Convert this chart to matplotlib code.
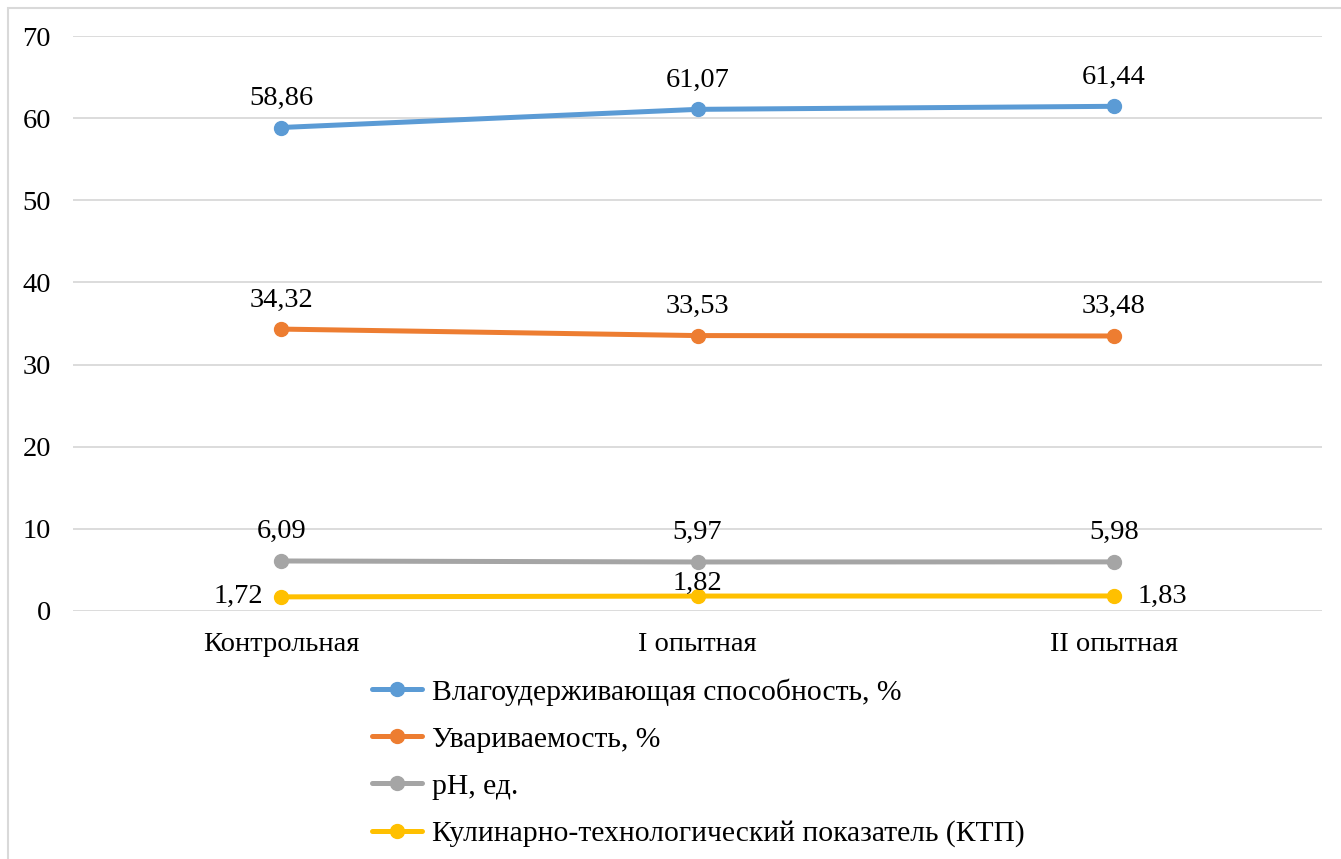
import matplotlib
matplotlib.use('Agg')
import matplotlib.pyplot as plt
from matplotlib.patches import Rectangle

plt.rcParams['font.family'] = ['Liberation Serif', 'DejaVu Serif']

# Данные
groups = ['Контрольная', 'I опытная', 'II опытная']
moisture = [58.86, 61.07, 61.44]
cooking_loss = [34.32, 33.53, 33.48]
ph = [6.09, 5.97, 5.98]
ktp = [1.72, 1.82, 1.83]

series = [
    ('Влагоудерживающая способность, %', moisture, '#5B9BD5'),
    ('Увариваемость, %', cooking_loss, '#ED7D31'),
    ('pH, ед.', ph, '#A5A5A5'),
    ('Кулинарно-технологический показатель (КТП)', ktp, '#FFC000'),
]

W, H = 1341, 859
fig = plt.figure(figsize=(W / 100, H / 100), dpi=100)
ax = fig.add_axes([73 / W, 1 - 611 / H, (1322 - 73) / W, (611 - 36) / H])

# рамка вокруг диаграммы
fig.patches.append(Rectangle((8 / W, -0.1), 1.2, 1 - 8 / H + 0.1, transform=fig.transFigure,
                             fill=False, edgecolor='#D9D9D9', linewidth=1.5))

x = list(range(len(groups)))
handles = []
for name, vals, color in series:
    h, = ax.plot(x, vals, color=color, linewidth=3.6, marker='o', markersize=10,
                 solid_capstyle='round', label=name, zorder=3)
    handles.append(h)

def fmt(v):
    return f'{v:.2f}'.replace('.', ',')

fs = 20.5
for name, vals, color in series[:3]:
    for i, v in enumerate(vals):
        ax.annotate(fmt(v), (i, v), xytext=(0, 21), textcoords='offset points',
                    ha='center', va='center', fontsize=fs)

# подписи для КТП
ax.annotate(fmt(ktp[0]), (0, ktp[0]), xytext=(-13, 0), textcoords='offset points',
            ha='right', va='center', fontsize=fs)
ax.annotate(fmt(ktp[1]), (1, ktp[1]), xytext=(0, 9), textcoords='offset points',
            ha='center', va='center', fontsize=fs)
ax.annotate(fmt(ktp[2]), (2, ktp[2]), xytext=(17, 0), textcoords='offset points',
            ha='left', va='center', fontsize=fs)

ax.set_xlim(-0.5, 2.5)
ax.set_ylim(0, 70)
ax.set_yticks(range(0, 71, 10))
ax.set_xticks(x)
ax.set_xticklabels(groups)
ax.tick_params(axis='both', length=0, labelsize=fs)
ax.tick_params(axis='y', pad=16)
ax.tick_params(axis='x', pad=15)
ax.grid(axis='y', color='#D9D9D9', linewidth=1.3)
ax.set_axisbelow(True)
for s in ax.spines.values():
    s.set_visible(False)

fig.legend(handles=handles, loc='upper left', bbox_to_anchor=(372 / W, 1 - 678 / H),
           frameon=False, fontsize=21.3, handlelength=1.7, handletextpad=0.33,
           labelspacing=0.69, borderaxespad=0, borderpad=0)

fig.savefig('out.png', dpi=100)
